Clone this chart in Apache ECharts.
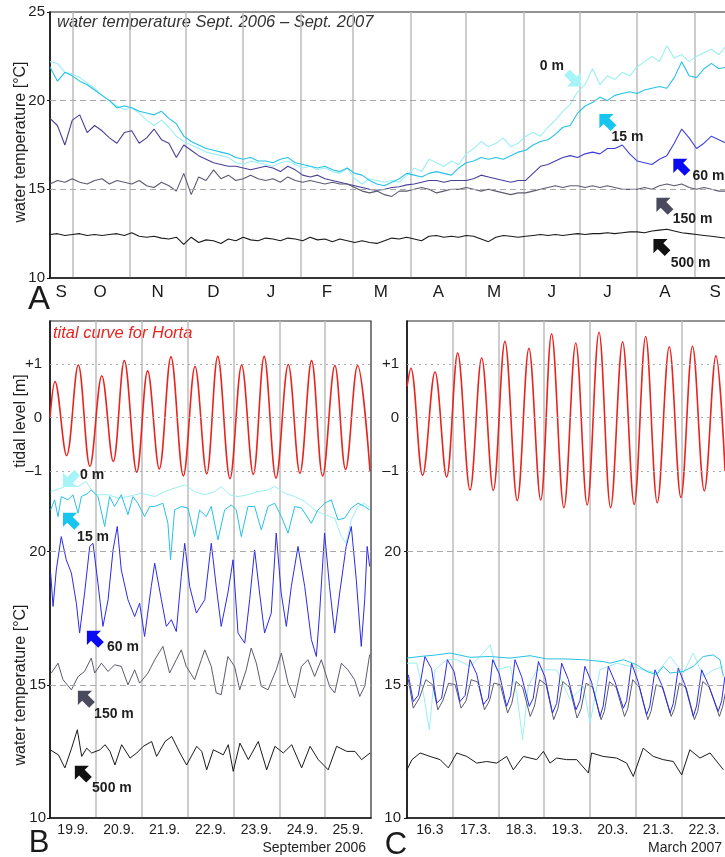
<!DOCTYPE html>
<html>
<head>
<meta charset="utf-8">
<title>Water temperature and tide, Horta</title>
<script src="https://cdn.jsdelivr.net/npm/echarts@6.0.0/dist/echarts.min.js"></script>
<style>
  html, body { margin: 0; padding: 0; background: #fff; }
  #chart { width: 725px; height: 857px; }
</style>
</head>
<body>
<div id="chart"></div>
<script>
// ---------- panel A: one year, days since 19 Sept 2006 ----------
const aDays = [0,4,8,12,16,20,24,28,32,36, 40,44,48,52,56,60,64,68,72,76,
  80,84,88,92,96,100,104,108,112,116, 120,124,128,132,136,140,144,148,152,156,
  160,164,168,172,176,180,184,188,192,196, 200,204,208,212,216,220,224,228,232,236,
  240,244,248,252,256,260,264,268,272,276, 280,284,288,292,296,300,304,308,312,316,
  320,324,328,332,336,340,344,348,352,356, 360,364];
const a0m = [22.2,22.1,21.6,21.5,21.3,21.0,20.7,20.3,20.0,19.7, 19.5,19.6,19.3,18.9,18.6,18.9,18.5,18.0,17.7,17.5,
  17.3,17.1,17.0,16.9,16.8,16.5,16.4,16.6,16.5,16.4, 16.3,16.5,16.6,16.4,16.2,16.3,16.1,16.2,16.0,15.9,
  16.2,15.6,15.3,15.6,15.5,15.4,15.5,15.4,15.8,16.2, 16.0,16.7,16.5,16.3,16.6,16.4,17.0,17.3,17.7,17.4,
  17.6,17.9,17.4,17.6,18.0,18.2,18.0,18.5,18.9,19.4, 19.8,20.5,20.9,21.8,20.9,21.4,21.2,21.6,21.4,21.9,
  22.2,22.5,22.2,23.1,22.4,22.6,22.2,22.5,22.7,22.9, 22.6,23.1];
const a15m = [21.9,21.1,21.6,21.4,21.1,20.9,20.6,20.3,20.0,19.6, 19.7,19.6,19.4,19.3,19.2,19.4,19.0,18.7,18.0,17.7,
  17.5,17.3,17.2,17.1,17.0,16.8,16.7,16.8,16.6,16.6, 16.5,16.7,16.8,16.5,16.4,16.3,16.2,16.3,16.1,16.0,
  16.2,15.9,15.8,15.5,15.3,15.2,15.4,15.6,15.9,15.8, 15.7,15.9,16.0,15.9,15.8,16.2,16.5,16.6,16.8,16.7,
  16.8,16.7,16.9,17.1,17.2,17.5,17.7,17.8,18.1,18.5, 18.6,19.3,19.7,19.9,20.2,20.0,20.3,20.4,20.5,20.4,
  20.6,20.7,20.8,20.7,21.3,22.2,21.4,21.3,21.8,22.1, 21.8,21.9];
const a60m = [19.0,18.6,17.5,18.9,19.2,18.2,18.6,18.3,17.9,17.6, 18.2,18.3,17.6,17.9,18.4,17.8,17.6,16.8,17.5,17.2,
  16.9,16.7,16.5,16.4,16.3,16.3,16.2,16.1,16.2,16.3, 16.2,16.0,16.3,16.1,15.8,15.7,15.8,15.6,15.5,15.4,
  15.3,15.2,15.1,15.0,14.95,15.0,15.1,15.15,15.25,15.3, 15.4,15.5,15.5,15.4,15.5,15.5,15.5,15.6,15.8,15.7,
  15.6,15.5,15.4,15.5,15.5,15.9,16.3,16.4,16.6,16.8, 16.9,16.8,17.0,17.1,17.0,17.3,17.3,17.5,17.0,16.6,
  16.5,16.4,16.7,16.9,17.6,18.4,17.9,17.3,17.6,18.0, 17.8,17.6];
const a150m = [15.3,15.5,15.4,15.6,15.4,15.3,15.5,15.6,15.3,15.5, 15.4,15.3,15.5,15.2,15.1,15.4,15.2,14.9,15.9,14.7,
  15.7,15.5,16.1,15.6,15.8,15.5,15.6,15.8,15.6,15.5, 15.6,15.4,15.7,15.5,15.4,15.5,15.4,15.3,15.4,15.3,
  15.3,15.1,14.9,14.8,14.9,14.7,14.6,14.9,14.9,15.0, 15.1,15.0,14.8,14.9,15.0,15.0,15.1,15.0,14.9,15.0,
  14.9,14.8,14.7,14.8,14.8,14.9,15.0,15.1,15.2,15.1, 15.2,15.2,15.1,15.2,15.1,15.2,15.1,15.0,15.0,15.0,
  15.1,15.0,15.2,15.3,15.2,15.3,15.1,15.0,15.1,15.0, 14.9,14.9];
const a500m = [12.45,12.5,12.4,12.45,12.5,12.4,12.45,12.4,12.45,12.5, 12.4,12.55,12.35,12.3,12.35,12.25,12.2,12.3,11.9,12.3,
  12.0,12.15,12.1,11.95,12.2,12.1,12.3,12.15,12.1,12.25, 12.2,12.1,12.25,12.2,12.1,12.3,12.15,12.2,12.05,12.2,
  12.1,12.0,12.1,12.0,11.95,12.1,12.25,12.2,12.3,12.2, 12.1,12.35,12.4,12.3,12.35,12.3,12.4,12.35,12.2,12.05,
  12.3,12.4,12.35,12.3,12.35,12.4,12.45,12.4,12.45,12.4, 12.45,12.5,12.45,12.5,12.5,12.55,12.5,12.55,12.6,12.6,
  12.55,12.65,12.7,12.75,12.65,12.55,12.5,12.45,12.4,12.35, 12.3,12.25];
const monthStarts = [12, 43, 73, 104, 135, 163, 194, 224, 255, 285, 316, 347];
const monthMids = [6, 27, 58, 88, 119, 149, 178, 209, 239, 270, 300, 331, 358];
const monthLetters = ['S', 'O', 'N', 'D', 'J', 'F', 'M', 'A', 'M', 'J', 'J', 'A', 'S'];

// ---------- panels B and C: one week, hours since first midnight ----------
const bDayLabels = ['19.9.', '20.9.', '21.9.', '22.9.', '23.9.', '24.9.', '25.9.'];
const cDayLabels = ['16.3', '17.3.', '18.3.', '19.3.', '20.3.', '21.3.', '22.3.'];

// tide: high and low waters
const bTide = [[0,0],[2.6,0.67],[8.7,-0.71],[14.8,0.98],[20.9,-0.91],[27.1,0.78],[33.1,-0.82],[38.9,1.06],[45.4,-1.02],[51.1,0.87],
  [57.2,-0.96],[63.3,1.13],[69.8,-1.09],[75.9,0.95],[82,-1.05],[87.8,1.14],[94.2,-1.14],[100.3,0.98],[106.4,-1.06],[112.1,1.14],
  [118.3,-1.13],[124.7,0.99],[130.8,-1.04],[136.9,1.06],[142.7,-1.09],[149.1,0.97],[154.7,-0.97],[161,0.97],[167.5,-1.0]];
const b0m = [[0.4,22.25],[5.9,22.38],[9.4,22.5],[14.7,22.44],[19,22.63],[21.6,22.31],[25.1,22.13],[30.4,22.13],[35.6,22.0],[40.8,22.06],
  [47.8,22.19],[54.8,22.06],[60,22.25],[65.2,22.38],[70.5,22.5],[75.7,22.25],[81,22.13],[86.2,22.25],[89.6,22.44],[94,22.13],
  [98.4,22.06],[103.6,22.13],[108.8,22.25],[114.1,22.31],[117.6,22.44],[122.8,22.19],[128,22.06],[133.3,21.88],[138.5,21.56],[143.7,21.38],
  [149,21.25],[152.5,20.56],[155,20.31],[157.7,21.19],[161.2,21.69],[164.7,21.81],[167.3,21.63]];
const b15m = [[0.35,21.56],[2.4,21.94],[4.2,21.31],[5.9,22.06],[9.4,21.94],[12,22.13],[14.7,21.44],[16.4,22.06],[19.9,22.19],[21.6,22.31],
  [25.1,22.06],[28.6,20.94],[31.2,22.06],[33.8,21.69],[37.3,22.13],[40.8,21.38],[43.4,22.06],[46,21.81],[49.5,21.31],[52.2,21.69],
  [54.8,21.69],[59.1,21.81],[61.7,21.06],[63.1,19.69],[65.2,21.56],[68.7,21.69],[72.2,21.63],[75.7,20.56],[78.3,21.56],[81.8,21.31],
  [84.4,21.69],[87.9,20.44],[91.4,21.56],[94.9,21.75],[97.5,21.56],[100.1,20.56],[103.6,21.69],[107.1,21.69],[110.6,20.81],[114.1,21.69],
  [117.6,21.81],[121.1,21.31],[124.6,20.69],[128.1,21.69],[131.6,21.63],[136.8,21.06],[140.2,21.56],[143.7,21.81],[147.2,21.94],[150.7,21.19],
  [154.2,21.25],[157.7,21.63],[161.2,21.81],[164.7,21.69],[167.3,21.56]];
const b60m = [[0.35,19.19],[1.6,17.94],[3.3,19.31],[5.9,20.56],[8.5,19.69],[11.2,19.19],[13.8,18.06],[15.5,16.94],[18.1,18.44],[20.8,20.19],
  [22.5,20.31],[25.1,18.81],[27.7,17.19],[30.4,18.19],[33,20.06],[35.2,20.94],[37.3,19.31],[40.8,18.19],[44.3,17.56],[46.9,18.06],
  [49.5,16.81],[53,18.69],[54.8,19.56],[58.3,18.19],[60.9,17.19],[63.5,17.44],[66.1,17.0],[68.7,19.06],[70.5,20.31],[73.1,18.69],
  [76.6,17.69],[81,18.19],[84.4,20.31],[87,18.69],[89.6,17.19],[93.1,18.44],[95.8,19.69],[98.4,16.94],[101.9,16.56],[104.5,18.19],
  [107.1,20.06],[109.7,18.44],[112.3,16.94],[115.8,17.69],[118.4,20.69],[121,18.44],[123.7,17.19],[126.3,18.69],[129.8,20.19],[133.3,18.69],
  [136.8,16.69],[139.4,16.06],[141.1,17.69],[143.7,20.69],[146.3,18.69],[149,16.94],[151.6,18.44],[155,20.19],[157.7,20.94],[160.3,18.94],
  [162.9,16.44],[164.7,18.19],[166,20.19],[167.3,19.44]];
const b150m = [[0.7,15.44],[4.2,15.81],[6.8,15.19],[11.2,14.81],[14.7,15.31],[18.1,15.5],[21.6,16.0],[23.4,15.44],[26.9,15.81],[30.4,15.5],
  [33.8,15.75],[37.3,15.69],[40.8,15.0],[44.3,15.56],[46.9,15.06],[51.3,15.44],[54.8,15.94],[59.1,16.44],[62.6,15.44],[66.1,15.94],
  [68.7,16.31],[71.3,15.69],[75.7,15.19],[79.2,15.94],[81,16.31],[84.4,15.69],[87,14.69],[89.6,14.63],[93.1,16.06],[96.6,15.69],
  [99.3,14.81],[102.7,15.56],[105.3,16.38],[108,15.81],[110.6,14.94],[114.1,14.81],[118.4,15.56],[121.1,16.19],[124.6,15.06],[128.1,14.5],
  [131.6,15.69],[135,15.94],[138.5,15.31],[142,15.94],[146.3,14.94],[149,14.69],[152.5,15.81],[155.9,15.56],[159.4,15.19],[162.1,14.56],
  [164.7,14.94],[167.3,16.13]];
const b500m = [[0,12.56],[4.4,12.37],[7.8,11.88],[11.3,12.62],[14.3,13.31],[16.6,12.31],[19.2,12.62],[21.8,12.44],[26.2,12.56],[28.8,12.75],
  [31.4,12.5],[34,11.99],[37.5,12.75],[41.9,12.25],[45.4,12.44],[48.8,12.69],[53.2,12.87],[55.8,12.31],[60.2,12.87],[63.7,13.06],
  [68,12.44],[71.5,11.99],[76.8,12.69],[79.4,12.5],[82,11.81],[85.5,12.56],[90.7,12.37],[93.3,12.75],[95.9,11.75],[99.4,12.81],
  [103.8,12.19],[109,12.87],[113.4,11.81],[117.7,12.69],[122.1,12.44],[126.5,12.75],[131.7,11.88],[136.1,12.69],[140.4,12.19],[145.6,11.81],
  [150,12.69],[155.3,12.5],[159.6,12.5],[163.1,12.19],[167.5,12.44]];

const cTide = [[0,0.58],[2,0.92],[8.2,-1.08],[14.7,0.85],[20.8,-1.11],[26.6,1.2],[33.1,-1.35],[39.2,1.11],[45.3,-1.36],[51.4,1.42],
  [57.9,-1.55],[64,1.29],[70.2,-1.54],[75.9,1.56],[82.4,-1.68],[88.6,1.39],[94.6,-1.63],[100.8,1.59],[106.9,-1.68],[113.2,1.41],
  [119.3,-1.62],[125.3,1.51],[131.4,-1.59],[137.7,1.32],[143.8,-1.49],[149.9,1.33],[156.1,-1.37],[162.2,1.15],[167,-1.0]];
const c0m = [[0,15.81],[5.1,15.81],[8.6,14.69],[11.7,13.31],[14.7,15.56],[20.8,15.94],[26.1,15.94],[33.1,15.69],[40.1,16.19],[43.6,16.5],
  [47.1,15.56],[54.1,15.69],[57.6,14.69],[60.7,12.94],[63.7,14.94],[68.1,15.56],[78.6,15.56],[85.6,14.44],[92.6,14.94],[96.1,13.56],
  [101.3,15.56],[110.1,15.81],[117.1,15.69],[124,15.56],[131.1,15.44],[138.1,16.06],[145,15.44],[150.3,16.19],[155.5,15.31],[160.8,15.56],
  [166.1,15.69]];
const c15m = [[0,16.0],[6.8,16.06],[15.6,16.12],[22.6,16.19],[33.1,16.03],[43.6,16.06],[54.1,16.0],[64.6,16.09],[73.3,15.97],[82.1,15.97],
  [92.6,15.94],[103,15.87],[106.6,15.81],[113.6,15.94],[120.6,15.75],[125.8,15.5],[131.1,15.37],[134.5,15.69],[138.1,15.44],[145,15.5],
  [150.3,15.69],[155.5,16.06],[160.8,16.12],[164.3,15.94],[166.1,15.31]];
const c60m = [[0.7,15.37],[3.3,14.37],[5.9,14.6],[9.4,16.06],[12.9,15.6],[15.6,14.31],[18.2,14.5],[21.2,15.94],[24.7,15.5],[27.8,14.37],
  [30.5,14.6],[33.1,15.94],[36.6,15.4],[40.1,14.25],[42.7,14.5],[45,15.94],[48.5,15.4],[52.3,14.19],[54.4,14.6],[56.7,15.94],
  [60.2,15.3],[64.2,14.19],[66.3,14.5],[69,15.87],[72.4,15.3],[76.4,13.94],[78.6,14.3],[81.2,15.81],[84.7,15.2],[88.7,14.06],
  [90.8,14.4],[93.4,15.69],[96.9,15.1],[101.3,13.81],[103,14.2],[105.7,15.69],[109.2,15.1],[113.6,14.12],[115.3,14.4],[117.9,15.81],
  [121.4,15.1],[125.8,13.87],[127.5,14.2],[130.2,15.56],[133.7,15.0],[138.1,13.94],[139.8,14.3],[142.4,15.62],[145.9,15.0],[150.3,13.81],
  [152,14.2],[154.7,15.56],[158.2,15.0],[163.4,14.0],[165.2,14.4],[166.9,15.3]];
const c150m = [[0.7,15.2],[3.3,14.12],[6.5,14.5],[9.9,15.19],[13.5,15.0],[16.2,14.06],[18.8,14.4],[21.8,15.06],[25.3,15.0],[28.4,14.12],
  [31,14.4],[33.7,15.19],[37.2,15.1],[40.7,14.06],[43.3,14.4],[45.6,15.06],[49,15.0],[52.8,13.94],[55,14.3],[57.3,15.12],
  [60.7,14.9],[64.7,13.81],[66.9,14.2],[69.6,15.19],[73,15.0],[77,13.69],[79.2,14.1],[81.8,15.12],[85.3,14.9],[89.3,13.75],
  [91.4,14.1],[94,15.06],[97.5,14.9],[101.9,13.69],[103.6,14.0],[106.3,15.12],[109.8,14.9],[114.2,13.81],[115.9,14.1],[118.5,15.19],
  [122,14.9],[126.4,13.69],[128.1,14.0],[130.8,15.0],[134.3,14.9],[138.7,13.81],[140.4,14.1],[143,15.06],[146.5,14.9],[150.9,13.69],
  [152.6,14.0],[155.3,15.12],[158.8,14.9],[164,13.81],[165.8,14.2],[168,15.0]];
const c500m = [[0,11.81],[2.6,12.19],[6.9,12.44],[12.1,12.31],[17.4,12.19],[21.7,11.88],[26.1,12.44],[31.4,12.31],[36.6,12.06],[41.8,12.12],
  [47.1,12.06],[52.3,12.31],[55.8,11.81],[61.1,12.31],[68.1,12.19],[71.6,12.5],[75.1,12.06],[78.6,12.25],[83.8,12.19],[89.1,12.19],
  [95.2,11.69],[96.9,12.44],[103,12.31],[110,12.25],[115.3,12.06],[118.8,11.56],[124,12.62],[129.3,12.31],[134.5,12.19],[139.8,12.12],
  [144.2,11.62],[148.5,12.56],[153.8,12.25],[159.1,12.44],[166.1,11.81]];

// depth labels and where their arrows sit (in data units of each panel)
const depthNames = ['0 m', '15 m', '60 m', '150 m', '500 m'];
const aArrowAt = [[282, 21.2], [299.5, 18.85], [339.3, 16.32], [330.2, 14.12], [328.6, 11.8]];
const bArrowAt = [[10.5, 22.69], [10.5, 21.19], [23, 16.76], [18.3, 14.51], [16.7, 11.7]];

// ---------- styling ----------
const FONT = "'Liberation Sans', Arial, sans-serif";
const COL = {
  m0: '#9beff3', m15: '#26c2e6', m60: '#2b2be8', m150: '#5b5b70', m500: '#1a1a1a',
  tide: '#e8241f', grid: '#bdbdbd', ref: '#a9a9a9', axis: '#151515', text: '#1e1e1e'
};
const arrowColors = ['#a6f4f6', '#17c5ef', '#0b0bf2', '#4a4a5e', '#111111'];
const aArrowRot = [-135, 45, 45, 45, 45];
const aLabelOff = [[-22, -13], [21, 16], [28, 10], [29, 14], [30, 17]];
const bArrowRot = [135, 45, 45, 45, 45];
const bLabelOff = [[22, -5], [23, 17], [29, 9], [29, 16], [30, 15]];
const ARROW = 'path://M10,0 L20,10 L14,10 L14,20 L6,20 L6,10 L0,10 Z';

const aAxisDays = Array.from({ length: 367 }, (_, i) => String(i));
const zipA = vals => aDays.map((d, i) => [d, vals[i]]);

function line(data, xi, yi, color, width, extra) {
  return Object.assign({
    type: 'line', data, xAxisIndex: xi, yAxisIndex: yi,
    showSymbol: false, symbol: 'none', silent: true, z: 3,
    lineStyle: { color, width }, itemStyle: { color }
  }, extra || {});
}

function refLines(values, type, color) {
  return {
    silent: true, symbol: 'none', animation: false,
    label: { show: false },
    lineStyle: { color, type, width: 1.2 },
    data: values.map(v => ({ yAxis: v }))
  };
}

function arrows(pos, rot, off, xi, yi) {
  return {
    type: 'scatter', xAxisIndex: xi, yAxisIndex: yi, silent: true, z: 6,
    symbol: ARROW, symbolSize: 20, symbolKeepAspect: true,
    itemStyle: { opacity: 1 },
    label: {
      show: true, position: 'inside', formatter: '{b}',
      fontFamily: FONT, fontSize: 14, fontWeight: 'bold', color: COL.text, opacity: 1
    },
    data: pos.map((p, i) => ({
      name: depthNames[i], value: p, symbolRotate: rot[i],
      itemStyle: { color: arrowColors[i], opacity: 1 },
      label: { offset: off[i] }
    }))
  };
}

const gridBase = { show: true, borderColor: '#2a2a2a', borderWidth: 1.2, outerBoundsMode: 'none' };
const axisLineStyle = { show: true, lineStyle: { color: COL.axis, width: 1.6 } };
const tickLabel = { fontFamily: FONT, fontSize: 15, color: COL.text };
// with only high/low waters as points, 0.36 makes each half cycle close to a cosine
const tideLine = { smooth: 0.36 };

function dayAxis(grid, labels) {
  return {
    type: 'category', gridIndex: grid, data: labels, boundaryGap: true, position: 'bottom',
    axisLine: axisLineStyle, axisTick: { show: false },
    axisLabel: { interval: 0, margin: 5, fontFamily: FONT, fontSize: 14, color: COL.text },
    splitLine: { show: true, interval: 0, showMinLine: false, showMaxLine: false,
      lineStyle: { color: COL.grid, width: 1.5 } }
  };
}
function hourAxis(grid) {
  return { type: 'value', gridIndex: grid, min: 0, max: 168, show: false, position: 'bottom' };
}
function tempAxis(grid, margin) {
  return {
    type: 'value', gridIndex: grid, min: 10, max: 28.65, interval: 5, position: 'left', offset: 0,
    axisLine: axisLineStyle,
    axisTick: { show: true, length: 3, customValues: [10, 15, 20], lineStyle: { color: COL.axis } },
    axisLabel: Object.assign({ margin, customValues: [10, 15, 20],
      formatter: v => (v === 10 || v === 15 || v === 20) ? String(v) : '' }, tickLabel),
    splitLine: { show: false }
  };
}
function tideAxis(grid, margin) {
  return {
    type: 'value', gridIndex: grid, min: -7.47, max: 1.8, position: 'left', offset: 0,
    axisLine: { show: false }, axisTick: { show: false },
    axisLabel: Object.assign({ margin, customValues: [-1, 0, 1],
      formatter: v => v > 0.5 ? '+1' : (v < -0.5 ? '\u20131' : '0') }, tickLabel),
    splitLine: { show: false }
  };
}

const chart = echarts.init(document.getElementById('chart'), null, { renderer: 'canvas' });

const option = {
  backgroundColor: '#ffffff',
  animation: false,
  grid: [
    Object.assign({ left: 50, top: 12, width: 680, height: 266 }, gridBase),
    Object.assign({ left: 50, top: 321, width: 321, height: 497 }, gridBase),
    Object.assign({ left: 407, top: 321, width: 320, height: 497 }, gridBase)
  ],
  xAxis: [
    { type: 'value', gridIndex: 0, min: 0, max: 366, show: false, position: 'bottom' },
    {
      type: 'category', gridIndex: 0, data: aAxisDays, boundaryGap: false, position: 'bottom',
      axisLine: axisLineStyle, axisTick: { show: false },
      axisLabel: {
        interval: i => monthMids.indexOf(i) >= 0,
        formatter: v => monthLetters[monthMids.indexOf(Number(v))] || '',
        margin: 6, fontFamily: FONT, fontSize: 17, color: '#1a1a1a'
      },
      splitLine: { show: true, interval: i => monthStarts.indexOf(i) >= 0,
        lineStyle: { color: COL.grid, width: 1.5 } }
    },
    hourAxis(1), dayAxis(1, bDayLabels),
    hourAxis(2), dayAxis(2, cDayLabels)
  ],
  yAxis: [
    {
      type: 'value', gridIndex: 0, min: 10, max: 25, interval: 5, position: 'left',
      axisLine: axisLineStyle,
      axisTick: { show: true, length: 3, lineStyle: { color: COL.axis } },
      axisLabel: Object.assign({ margin: 5 }, tickLabel),
      splitLine: { show: false }
    },
    tempAxis(1, 4), tideAxis(1, 8),
    tempAxis(2, 6), tideAxis(2, 8)
  ],
  series: [
    // panel A
    line(zipA(a0m), 0, 0, COL.m0, 1.1),
    line(zipA(a15m), 0, 0, COL.m15, 1.1),
    line(zipA(a60m), 0, 0, {
      type: 'linear', x: 0, y: 0, x2: 1, y2: 0,
      colorStops: [
        { offset: 0, color: '#4a4190' }, { offset: 0.72, color: '#463f98' },
        { offset: 0.8, color: '#3c3cdc' }, { offset: 1, color: '#4444e2' }
      ]
    }, 1.1),
    line(zipA(a150m), 0, 0, COL.m150, 1.1),
    line(zipA(a500m), 0, 0, COL.m500, 1.1, { markLine: refLines([15, 20], [6, 4], COL.ref) }),
    arrows(aArrowAt, aArrowRot, aLabelOff, 0, 0),

    // panel B
    line(bTide, 2, 2, COL.tide, 1.6, Object.assign({ markLine: refLines([1, 0, -1], [2, 4], COL.ref) }, tideLine)),
    line(b0m, 2, 1, COL.m0, 1),
    line(b15m, 2, 1, COL.m15, 1),
    line(b150m, 2, 1, COL.m150, 1),
    line(b60m, 2, 1, COL.m60, 1),
    line(b500m, 2, 1, COL.m500, 1, { markLine: refLines([15, 20], [6, 4], COL.ref) }),
    arrows(bArrowAt, bArrowRot, bLabelOff, 2, 1),

    // panel C
    line(cTide, 4, 4, COL.tide, 1.6, Object.assign({ markLine: refLines([1, 0, -1], [2, 4], COL.ref) }, tideLine)),
    line(c0m, 4, 3, COL.m0, 1),
    line(c150m, 4, 3, COL.m150, 1),
    line(c60m, 4, 3, COL.m60, 1),
    line(c15m, 4, 3, COL.m15, 1),
    line(c500m, 4, 3, COL.m500, 1, { markLine: refLines([15, 20], [6, 4], COL.ref) })
  ],
  graphic: [
    { type: 'text', x: 57, y: 22, silent: true, style: { text: 'water temperature Sept. 2006 \u2013 Sept. 2007',
      fontFamily: FONT, fontSize: 16.5, fontStyle: 'italic', fill: '#333',
      align: 'left', verticalAlign: 'middle', textAlign: 'left', textVerticalAlign: 'middle' } },
    { type: 'text', x: 53, y: 333, silent: true, style: { text: 'tital curve for Horta',
      fontFamily: FONT, fontSize: 16.5, fontStyle: 'italic', fill: COL.tide,
      align: 'left', verticalAlign: 'middle', textAlign: 'left', textVerticalAlign: 'middle' } },
    { type: 'text', x: 21, y: 142, rotation: Math.PI / 2, silent: true, style: { text: 'water temperature [\u00b0C]',
      fontFamily: FONT, fontSize: 16, fill: COL.text,
      align: 'center', verticalAlign: 'middle', textAlign: 'center', textVerticalAlign: 'middle' } },
    { type: 'text', x: 21, y: 421, rotation: Math.PI / 2, silent: true, style: { text: 'tidal level [m]',
      fontFamily: FONT, fontSize: 16, fill: COL.text,
      align: 'center', verticalAlign: 'middle', textAlign: 'center', textVerticalAlign: 'middle' } },
    { type: 'text', x: 21, y: 685, rotation: Math.PI / 2, silent: true, style: { text: 'water temperature [\u00b0C]',
      fontFamily: FONT, fontSize: 16, fill: COL.text,
      align: 'center', verticalAlign: 'middle', textAlign: 'center', textVerticalAlign: 'middle' } },
    { type: 'text', x: 39, y: 300, silent: true, style: { text: 'A', fontFamily: FONT, fontSize: 33, fill: '#1a1a1a',
      align: 'center', verticalAlign: 'middle', textAlign: 'center', textVerticalAlign: 'middle' } },
    { type: 'text', x: 39, y: 843, silent: true, style: { text: 'B', fontFamily: FONT, fontSize: 31, fill: '#1a1a1a',
      align: 'center', verticalAlign: 'middle', textAlign: 'center', textVerticalAlign: 'middle' } },
    { type: 'text', x: 396, y: 845, silent: true, style: { text: 'C', fontFamily: FONT, fontSize: 31, fill: '#1a1a1a',
      align: 'center', verticalAlign: 'middle', textAlign: 'center', textVerticalAlign: 'middle' } },
    { type: 'text', x: 366, y: 848, silent: true, style: { text: 'September 2006', fontFamily: FONT, fontSize: 14, fill: COL.text,
      align: 'right', verticalAlign: 'middle', textAlign: 'right', textVerticalAlign: 'middle' } },
    { type: 'text', x: 722, y: 848, silent: true, style: { text: 'March 2007', fontFamily: FONT, fontSize: 14, fill: COL.text,
      align: 'right', verticalAlign: 'middle', textAlign: 'right', textVerticalAlign: 'middle' } }
  ]
};

chart.setOption(option);
</script>
</body>
</html>
